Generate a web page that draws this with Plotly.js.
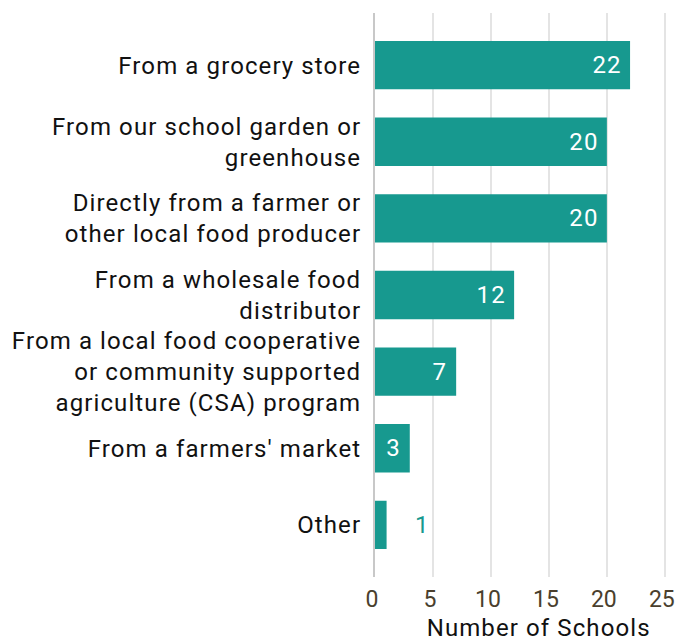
<!DOCTYPE html>
<html><head><meta charset="utf-8">
<script src="https://cdn.plot.ly/plotly-3.0.1.min.js"></script>
<style>
html,body{margin:0;padding:0;background:#fff}
#chart svg text{letter-spacing:1.1px}
#chart svg .xtick text{letter-spacing:0}
</style>
</head><body>
<div id="chart" style="width:675px;height:642px"></div>
<script>
const categories = [
  "From a grocery store",
  "From our school garden or<br>greenhouse",
  "Directly from a farmer or<br>other local food producer",
  "From a wholesale food<br>distributor",
  "From a local food cooperative<br>or community supported<br>agriculture (CSA) program",
  "From a farmers' market",
  "Other"
];
const schools = [22, 20, 20, 12, 7, 3, 1];
const xTicks = [0, 5, 10, 15, 20, 25];
const xTitle = "Number of Schools";

const teal = "#17998f";
const FONT = "Roboto, sans-serif";
const FS = 24;
const positions = schools.map(v => v >= 3 ? "inside" : "outside");
const labels = schools.map(v => v >= 3 ? v + "\u00a0" : "\u00a0\u00a0\u00a0\u00a0" + v);
const textColors = schools.map(v => v >= 3 ? "#ffffff" : teal);

const trace = {
  type: "bar",
  orientation: "h",
  x: schools,
  y: categories,
  marker: {color: teal},
  text: labels,
  textposition: positions,
  insidetextanchor: "end",
  textfont: {family: FONT, size: FS, color: textColors},
  insidetextfont: {family: FONT, size: FS, color: "#ffffff"},
  outsidetextfont: {family: FONT, size: FS, color: teal},
  cliponaxis: false,
  hoverinfo: "none"
};

const layout = {
  width: 675, height: 642,
  margin: {l: 375, r: 9, t: 13, b: 65},
  paper_bgcolor: "#ffffff",
  plot_bgcolor: "#ffffff",
  bargap: 0.37,
  showlegend: false,
  font: {family: FONT, size: FS, color: "#111111"},
  xaxis: {
    range: [0, 25.1],
    tickvals: xTicks,
    ticktext: xTicks.map(String),
    tickfont: {family: FONT, size: 23, color: "#4a3f2e"},
    ticklabelshift: -3,
    showgrid: true,
    gridcolor: "#e4e4e4",
    gridwidth: 1.5,
    zeroline: false,
    showline: false,
    ticks: "outside",
    ticklen: 1,
    tickcolor: "rgba(0,0,0,0)",
    fixedrange: true
  },
  yaxis: {
    type: "category",
    autorange: false,
    range: [6.68, -0.68],
    tickfont: {family: FONT, size: FS, color: "#111111"},
    ticks: "outside",
    ticklen: 7,
    tickcolor: "rgba(0,0,0,0)",
    showline: true,
    linecolor: "#c8c8c8",
    linewidth: 2,
    showgrid: false,
    zeroline: false,
    fixedrange: true
  },
  annotations: [{
    text: xTitle,
    xref: "paper", yref: "paper",
    x: 0.5, y: 0,
    xanchor: "center", yanchor: "top",
    xshift: 18, yshift: -35,
    showarrow: false,
    font: {family: FONT, size: FS, color: "#111111"}
  }]
};

Plotly.newPlot("chart", [trace], layout, {displayModeBar: false, staticPlot: true});
</script>
</body></html>
